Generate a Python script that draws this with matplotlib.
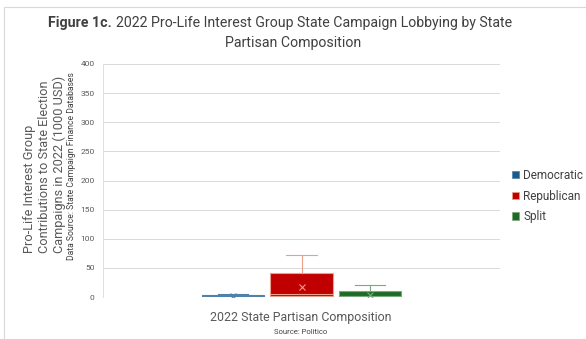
import matplotlib.pyplot as plt
from matplotlib.patches import Rectangle, Patch

# box statistics per state partisan composition (1000 USD)
groups = ["Democratic", "Republican", "Split"]
whis_lo = [0, 0, 0]
q1 = [0, 2, 0.5]
medians = [1, 6, 1]
q3 = [3, 41, 10]
whis_hi = [5, 72, 20]
means = [2, 17, 3]

fills = ["#1a5b8a", "#c00000", "#1e6b24"]
edges = ["#4f82ab", "#e8a08c", "#7ba87f"]
y_ticks = list(range(0, 401, 50))

plt.rcParams["font.family"] = ["Roboto", "DejaVu Sans"]
narrow = ["Liberation Sans Narrow", "Roboto", "DejaVu Sans"]

fig = plt.figure(figsize=(5.86, 3.39), dpi=100)
fig.patches.append(Rectangle((4 / 586, -0.05), 1.1, 1 - 7 / 339 + 0.05,
                             transform=fig.transFigure, fill=False,
                             edgecolor="#d9d9d9", lw=0.8))

ax = fig.add_axes([103 / 586, 42 / 339, 397 / 586, 233 / 339])

positions = [-1, 0, 1]
for i, name in enumerate(groups):
    stats = [dict(whislo=whis_lo[i], q1=q1[i], med=medians[i], q3=q3[i],
                  whishi=whis_hi[i], mean=means[i], label=name)]
    ax.bxp(stats, positions=[positions[i]], widths=0.91, patch_artist=True,
           showmeans=True, showfliers=False,
           boxprops=dict(facecolor=fills[i], edgecolor=edges[i], lw=0.8),
           medianprops=dict(color=edges[i], lw=0.8),
           whiskerprops=dict(color=edges[i], lw=0.8),
           capprops=dict(color=edges[i], lw=0.8),
           meanprops=dict(marker="x", markeredgecolor=edges[i], markersize=4,
                          markeredgewidth=0.8),
           capwidths=0.45)

ax.set_xlim(-2.9, 2.9)
ax.set_ylim(0, 400)
ax.set_yticks(y_ticks)
ax.set_xticks([])
ax.tick_params(axis="y", length=0, labelsize=6, labelcolor="#595959", pad=6)
ax.yaxis.grid(True, color="#d9d9d9", lw=0.7)
ax.set_axisbelow(True)
for side in ["top", "right", "bottom"]:
    ax.spines[side].set_visible(False)
ax.spines["left"].set_color("#d9d9d9")
ax.spines["left"].set_linewidth(0.6)

# title: bold figure number followed by regular text
t1 = fig.text(48 / 586, 1 - 23 / 339, "Figure 1c.", ha="left", va="center",
              fontsize=10.2, fontweight="bold", color="#404040")
fig.canvas.draw()
bb = t1.get_window_extent()
fig.text(bb.x1 / fig.bbox.width + 0.008, 1 - 23 / 339,
         "2022 Pro-Life Interest Group State Campaign Lobbying by State",
         ha="left", va="center", fontsize=10.2, color="#404040")
fig.text(0.5, 1 - 43 / 339, "Partisan Composition", ha="center", va="center",
         fontsize=10.2, color="#404040")

# y axis label lines, bottom aligned
ylab = ["Pro-Life Interest Group", "Contributions to State Election",
        "Campaigns in 2022 (1000 USD)"]
for x, s in zip([29, 44, 59], ylab):
    fig.text(x / 586, 1 - 253 / 339, s, rotation=90, ha="center", va="bottom",
             fontsize=9.2, color="#595959", family=narrow)
fig.text(72 / 586, 1 - 260 / 339, "Data Source: State Campaign Finance Databases",
         rotation=90, ha="center", va="bottom", fontsize=6.2, color="#404040",
         family=narrow)

fig.text(301 / 586, 1 - 317 / 339, "2022 State Partisan Composition",
         ha="center", va="center", fontsize=8.9, color="#595959")
fig.text(301 / 586, 1 - 332 / 339, "Source: Politico", ha="center", va="center",
         fontsize=5.5, color="#404040")

handles = [Patch(facecolor=c, edgecolor=e, lw=0.5) for c, e in zip(fills, edges)]
fig.legend(handles, groups, loc="center left", bbox_to_anchor=(501 / 586, 1 - 196 / 339),
           frameon=False, fontsize=8.5, handlelength=0.6, handleheight=0.6,
           handletextpad=0.4, labelspacing=0.65, labelcolor="#404040")

fig.savefig("out.png", dpi=100)
